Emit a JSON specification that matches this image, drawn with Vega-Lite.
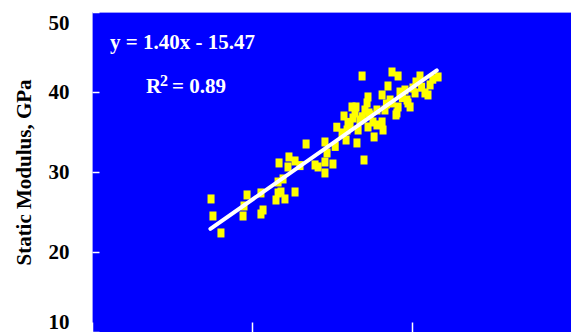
{
  "$schema": "https://vega.github.io/schema/vega-lite/v6.json",
  "width": 480,
  "height": 320,
  "autosize": {"type": "none"},
  "padding": {"left": 92, "top": 12, "right": 0, "bottom": 0},
  "background": "white",
  "config": {
    "view": {"fill": "#0000ff", "stroke": "#9a9aff", "strokeWidth": 1},
    "font": "Liberation Serif"
  },
  "datasets": {
    "pts": [
      {"x": 27.44, "y": 26.63}, {"x": 27.56, "y": 24.5}, {"x": 28.06, "y": 22.38},
      {"x": 29.69, "y": 27.13}, {"x": 29.5, "y": 25.75}, {"x": 29.44, "y": 24.5},
      {"x": 30.56, "y": 27.38}, {"x": 30.69, "y": 25.25}, {"x": 30.56, "y": 24.75},
      {"x": 31.69, "y": 31.13}, {"x": 32.25, "y": 30.63}, {"x": 32.31, "y": 31.88},
      {"x": 31.63, "y": 28.75}, {"x": 31.94, "y": 29.13}, {"x": 31.63, "y": 27.38},
      {"x": 31.81, "y": 27.5}, {"x": 31.5, "y": 26.5}, {"x": 32.06, "y": 26.63},
      {"x": 32.69, "y": 31.38}, {"x": 32.69, "y": 27.5}, {"x": 33.38, "y": 33.5},
      {"x": 33.94, "y": 30.88}, {"x": 34.13, "y": 30.63}, {"x": 34.56, "y": 31.25},
      {"x": 35.06, "y": 31.0}, {"x": 34.56, "y": 29.88}, {"x": 34.56, "y": 33.75},
      {"x": 34.69, "y": 32.38}, {"x": 35.63, "y": 34.88}, {"x": 35.88, "y": 34.0},
      {"x": 35.75, "y": 37.0}, {"x": 36.25, "y": 38.13}, {"x": 36.31, "y": 36.75},
      {"x": 36.88, "y": 42.0}, {"x": 38.75, "y": 42.5}, {"x": 39.13, "y": 42.0},
      {"x": 38.5, "y": 40.75}, {"x": 38.13, "y": 39.63}, {"x": 37.25, "y": 39.38},
      {"x": 37.19, "y": 38.63}, {"x": 36.5, "y": 38.13}, {"x": 36.44, "y": 37.38},
      {"x": 37.81, "y": 37.75}, {"x": 38.75, "y": 38.63}, {"x": 39.0, "y": 37.13},
      {"x": 38.13, "y": 36.25}, {"x": 37.56, "y": 36.25}, {"x": 37.63, "y": 34.38},
      {"x": 38.19, "y": 35.25}, {"x": 36.56, "y": 33.63}, {"x": 36.63, "y": 35.25},
      {"x": 35.94, "y": 35.25}, {"x": 37.25, "y": 35.63}, {"x": 37.0, "y": 31.5},
      {"x": 40.5, "y": 42.0}, {"x": 41.63, "y": 41.88}, {"x": 41.13, "y": 40.88},
      {"x": 40.81, "y": 39.88}, {"x": 41.0, "y": 39.63}, {"x": 40.19, "y": 39.88},
      {"x": 39.25, "y": 40.0}, {"x": 39.88, "y": 38.13}, {"x": 39.06, "y": 37.38},
      {"x": 39.75, "y": 38.63}, {"x": 40.25, "y": 41.25}, {"x": 39.56, "y": 40.25},
      {"x": 38.63, "y": 39.0}, {"x": 36.75, "y": 36.5}, {"x": 37.06, "y": 37.75},
      {"x": 37.38, "y": 37.13}, {"x": 36.13, "y": 35.88}, {"x": 40.06, "y": 40.5},
      {"x": 38.31, "y": 37.75}, {"x": 39.13, "y": 38.13}, {"x": 37.81, "y": 35.88},
      {"x": 39.69, "y": 39.0}, {"x": 37.31, "y": 37.38}, {"x": 36.0, "y": 36.2},
      {"x": 36.9, "y": 36.9}, {"x": 38.4, "y": 38.5}, {"x": 39.4, "y": 39.3},
      {"x": 40.6, "y": 40.6}, {"x": 41.3, "y": 41.6}, {"x": 35.3, "y": 35.6},
      {"x": 35.2, "y": 33.2}, {"x": 33.0, "y": 30.8}
    ],
    "fit": [{"x": 27.4, "y": 22.89}, {"x": 41.55, "y": 42.7}],
    "big": [
      {"x": 21.125, "y": 45.375, "label": "y = 1.40x - 15.47"},
      {"x": 23.375, "y": 39.875, "label": "R"},
      {"x": 25.0, "y": 39.875, "label": "= 0.89"}
    ],
    "sup": [{"x": 24.25, "y": 40.7, "label": "2"}]
  },
  "encoding": {
    "x": {
      "field": "x", "type": "quantitative",
      "scale": {"domain": [20, 50], "nice": false, "zero": false},
      "axis": {
        "values": [20, 30, 40, 50], "labels": false, "title": null,
        "domain": false, "grid": false,
        "tickColor": "white", "tickSize": -10, "tickWidth": 1.5
      }
    },
    "y": {
      "field": "y", "type": "quantitative",
      "scale": {"domain": [10, 50], "nice": false, "zero": false},
      "axis": {
        "values": [10, 20, 30, 40, 50], "grid": false, "domain": false,
        "tickColor": "white", "tickSize": -7, "tickWidth": 1.5,
        "labelPadding": 30, "labelFont": "Liberation Serif", "labelFontWeight": "bold",
        "labelFontSize": 21, "labelColor": "black",
        "labelFlush": true, "labelFlushOffset": 0,
        "title": "Static Modulus, GPa", "titleFont": "Liberation Serif",
        "titleFontWeight": "bold", "titleFontSize": 21, "titleColor": "black",
        "titleAngle": -90, "titleX": -62, "titleY": 160,
        "titleAlign": "center", "titleBaseline": "alphabetic"
      }
    }
  },
  "layer": [
    {
      "data": {"name": "pts"},
      "mark": {"type": "point", "filled": true, "opacity": 1, "color": "#ffff00",
               "shape": "M-0.78,-1L0.78,-1L0.78,1L-0.78,1Z", "size": 81, "strokeWidth": 0}
    },
    {
      "data": {"name": "fit"},
      "mark": {"type": "line", "color": "white", "strokeWidth": 4, "strokeCap": "round"}
    },
    {
      "data": {"name": "big"},
      "mark": {"type": "text", "align": "left", "baseline": "alphabetic",
               "font": "Liberation Serif", "fontWeight": "bold", "fontSize": 21, "color": "white"},
      "encoding": {"text": {"field": "label"}}
    },
    {
      "data": {"name": "sup"},
      "mark": {"type": "text", "align": "left", "baseline": "alphabetic",
               "font": "Liberation Serif", "fontWeight": "bold", "fontSize": 16, "color": "white"},
      "encoding": {"text": {"field": "label"}}
    }
  ]
}
